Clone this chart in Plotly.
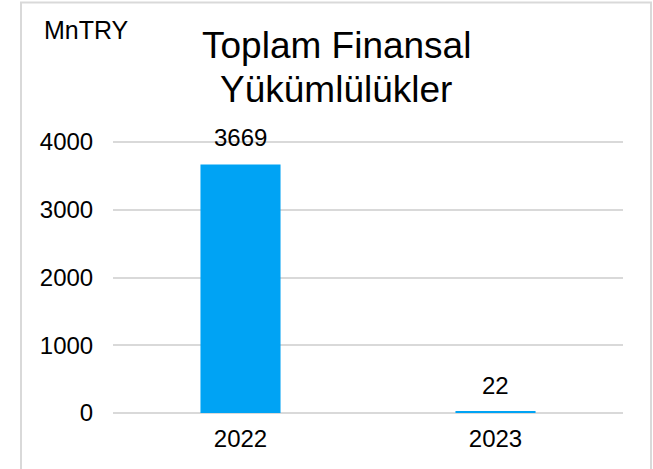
import plotly.graph_objects as go

categories = ["2022", "2023"]
values = [3669, 22]
value_labels = ["3669", "22"]
y_ticks = [0, 1000, 2000, 3000, 4000]
y_max = 4030
title_lines = ["Toplam Finansal", "Yükümlülükler"]
unit_text = "MnTRY"

FONT = "Liberation Sans, Arial, sans-serif"
BAR = "#00A3F4"
GRID = "#d9d9d9"

W, H = 653, 469
L, R, T, B = 113, 30, 140, 56
pw, ph = W - L - R, H - T - B


def px_x(x):
    return (x - L) / pw


def px_y(y):
    return (H - B - y) / ph


fig = go.Figure()
fig.add_trace(go.Bar(x=categories, y=values, marker=dict(color=BAR, line=dict(width=0)),
                     hoverinfo="skip"))

for i, (v, t) in enumerate(zip(values, value_labels)):
    fig.add_annotation(x=i, y=v, xref="x", yref="y", text=t, showarrow=False,
                       xanchor="center", yanchor="bottom", yshift=11,
                       font=dict(family=FONT, size=24, color="#000000"))

fig.add_annotation(xref="paper", yref="paper", x=px_x(42), y=px_y(30), text=unit_text,
                   showarrow=False, xanchor="left", yanchor="middle",
                   font=dict(family=FONT, size=25, color="#000000"))

for line, yc in zip(title_lines, [46, 89]):
    fig.add_annotation(xref="paper", yref="paper", x=px_x(336), y=px_y(yc), text=line,
                       showarrow=False, xanchor="center", yanchor="middle",
                       font=dict(family=FONT, size=37, color="#000000"))

fig.add_shape(type="rect", xref="paper", yref="paper",
              x0=px_x(21), x1=px_x(651), y0=px_y(480), y1=px_y(2.5),
              line=dict(color=GRID, width=2), fillcolor="rgba(0,0,0,0)", layer="below")

fig.update_layout(
    width=W, height=H,
    margin=dict(l=L, r=R, t=T, b=B, autoexpand=False),
    paper_bgcolor="white", plot_bgcolor="white",
    showlegend=False,
    bargap=0.686,
    font=dict(family=FONT, size=24, color="#000000"),
)
fig.update_xaxes(type="category", range=[-0.5, 1.5], showgrid=False, showline=False,
                 ticks="outside", ticklen=4, tickcolor="rgba(0,0,0,0)",
                 zeroline=False, tickfont=dict(family=FONT, size=24, color="#000000"))
fig.update_yaxes(range=[0, y_max], tickvals=y_ticks, showgrid=True, gridcolor=GRID, gridwidth=1.5,
                 zeroline=True, zerolinecolor=GRID, zerolinewidth=1.5, showline=False,
                 ticks="outside", ticklen=14, tickcolor="rgba(0,0,0,0)",
                 tickfont=dict(family=FONT, size=24, color="#000000"))

fig.write_html("out.html", config={"displayModeBar": False},
               post_script="document.body.style.margin='0';")
